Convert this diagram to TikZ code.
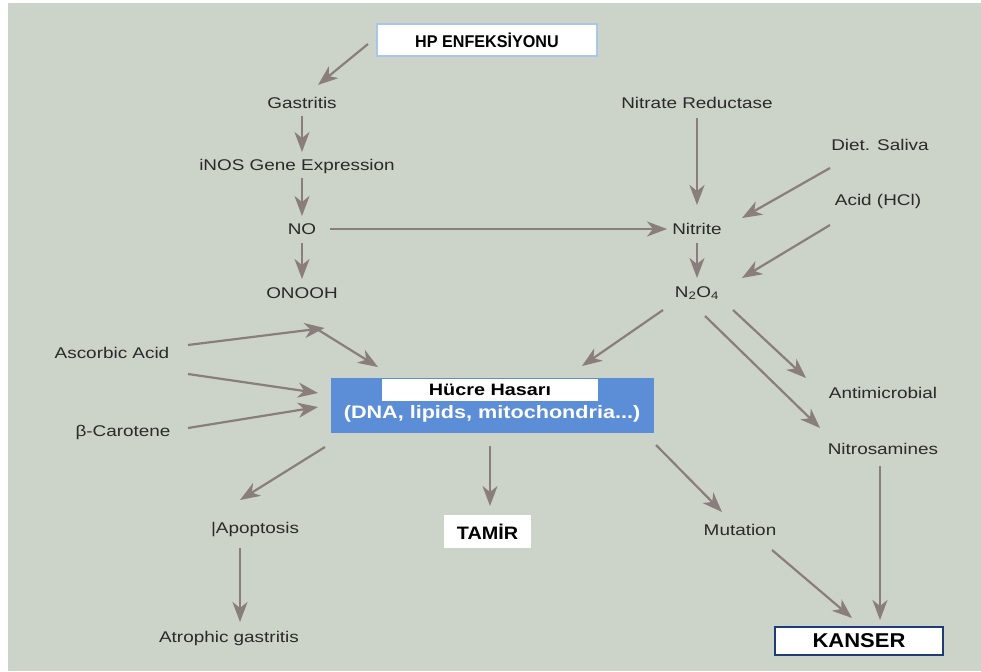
\documentclass[tikz,border=0pt]{standalone}
\usepackage{fontspec}
\setmainfont[FakeStretch=1.22]{Liberation Sans}
\newfontfamily\bst[FakeStretch=1.2]{Liberation Sans}
\newfontfamily\bkn[FakeStretch=1.1]{Liberation Sans}
\newfontfamily\bhp[FakeStretch=0.95]{Liberation Sans}
\usetikzlibrary{arrows.meta}
\definecolor{bgc}{HTML}{CCD3C8}
\definecolor{arrc}{HTML}{8A7E7C}
\definecolor{hblue}{HTML}{5B8ED6}
\definecolor{lblue}{HTML}{A8C6EA}
\definecolor{navy}{HTML}{1E3C78}
\definecolor{labc}{HTML}{2A2A2A}
\tikzset{
  lab/.style={inner sep=0pt, text=labc, font=\fontsize{15.5}{18}\selectfont},
  arr/.style={draw=arrc, line width=2.2pt, -{Stealth[length=20pt,width=15pt,inset=6pt]}},
}
\begin{document}
\begin{tikzpicture}[x=1pt,y=-1pt]
\useasboundingbox (0,0) rectangle (981,671);
\fill[white] (0,0) rectangle (981,671);
\fill[bgc] (8,3) rectangle (981,671);

% boxes
\node[fill=white, draw=lblue, line width=1.5pt, minimum width=220pt, minimum height=32pt, inner sep=0pt,
      font=\bhp\bfseries\fontsize{17}{20}\selectfont] (hp) at (487,40) {HP ENFEKSİYONU};
\node[fill=hblue, minimum width=323pt, minimum height=55pt, inner sep=0pt] (hucre) at (492.5,405.5) {};
\node[fill=white, minimum width=216pt, minimum height=22pt, inner sep=0pt,
      font=\bst\bfseries\fontsize{16.5}{19}\selectfont] (hlab) at (490,390) {Hücre Hasarı};
\node[inner sep=0pt, text=white, font=\bst\bfseries\fontsize{18}{21}\selectfont] (hsub) at (492,414) {(DNA, lipids, mitochondria...)};
\node[fill=white, minimum width=87pt, minimum height=33pt, inner sep=0pt,
      font=\bkn\bfseries\fontsize{18}{21}\selectfont] (tamir) at (487.5,531.5) {TAMİR};
\node[fill=white, draw=navy, line width=2pt, minimum width=168pt, minimum height=28pt, inner sep=0pt,
      font=\bkn\bfseries\fontsize{20}{23}\selectfont] (kanser) at (859,641) {KANSER};

% labels
\node[lab] (gas) at (302,103) {Gastritis};
\node[lab] (inos) at (297,166) {iNOS Gene Expression};
\node[lab] (no) at (302,229) {NO};
\node[lab] (onooh) at (302,293) {ONOOH};
\node[lab] (nr) at (697,103) {Nitrate Reductase};
\node[lab] (diet) at (880,145) {Diet. Saliva};
\node[lab] (acid) at (878,201) {Acid (HCl)};
\node[lab] (nitrite) at (697,229) {Nitrite};
\node[lab] (n2o4) at (697,293) {N\textsubscript{2}O\textsubscript{4}};
\node[lab] (asc) at (112,353) {Ascorbic Acid};
\node[lab] (beta) at (123,432) {β-Carotene};
\node[lab] (anti) at (883,393) {Antimicrobial};
\node[lab] (nitros) at (883,449) {Nitrosamines};
\node[lab] (apop) at (255,530) {|Apoptosis};
\node[lab] (atro) at (229,638) {Atrophic gastritis};
\node[lab] (mut) at (740,530) {Mutation};

% connectors
\draw[arr] ([shift={(-119,4)}]hp.center) -- ([shift={(16,-18)}]gas.center);
\draw[arr] ([shift={(0,13)}]gas.center) -- ([shift={(5,-14)}]inos.center);
\draw[arr] ([shift={(5,12)}]inos.center) -- ([shift={(0,-13)}]no.center);
\draw[arr] ([shift={(28,0)}]no.center) -- ([shift={(-30,0)}]nitrite.center);
\draw[arr] ([shift={(0,14)}]no.center) -- ([shift={(0,-14)}]onooh.center);
\draw[arr] ([shift={(10,33)}]onooh.center) -- ([shift={(-114.5,-38.5)}]hucre.center);
\draw[arr] ([shift={(0,15)}]nr.center) -- ([shift={(0,-24)}]nitrite.center);
\draw[arr] ([shift={(-50,23)}]diet.center) -- ([shift={(45,-11)}]nitrite.center);
\draw[arr] ([shift={(-48,24)}]acid.center) -- ([shift={(45,-15)}]n2o4.center);
\draw[arr] ([shift={(0,14)}]nitrite.center) -- ([shift={(0,-15)}]n2o4.center);
\draw[arr] ([shift={(-34,17)}]n2o4.center) -- ([shift={(89.5,-39.5)}]hucre.center);
\draw[arr] ([shift={(36,17)}]n2o4.center) -- ([shift={(-77,-15)}]anti.center);
\draw[arr] ([shift={(8,23)}]n2o4.center) -- ([shift={(-63,-21)}]nitros.center);
\draw[arr] ([shift={(-3,17)}]nitros.center) -- ([shift={(21,-21)}]kanser.center);
\draw[arr] ([shift={(76,-8)}]asc.center) -- ([shift={(-168,-77.5)}]hucre.center);
\draw[arr] ([shift={(76,21)}]asc.center) -- ([shift={(-174.5,-12.5)}]hucre.center);
\draw[arr] ([shift={(65,-4)}]beta.center) -- ([shift={(-174.5,1.5)}]hucre.center);
\draw[arr] ([shift={(-167.5,41.5)}]hucre.center) -- ([shift={(-15,-30)}]apop.center);
\draw[arr] ([shift={(-15,18)}]apop.center) -- ([shift={(11,-16)}]atro.center);
\draw[arr] ([shift={(-2.5,40.5)}]hucre.center) -- ([shift={(2.5,-25.5)}]tamir.center);
\draw[arr] ([shift={(163.5,39.5)}]hucre.center) -- ([shift={(-18,-18)}]mut.center);
\draw[arr] ([shift={(32,20)}]mut.center) -- ([shift={(-7,-23)}]kanser.center);
\end{tikzpicture}
\end{document}
